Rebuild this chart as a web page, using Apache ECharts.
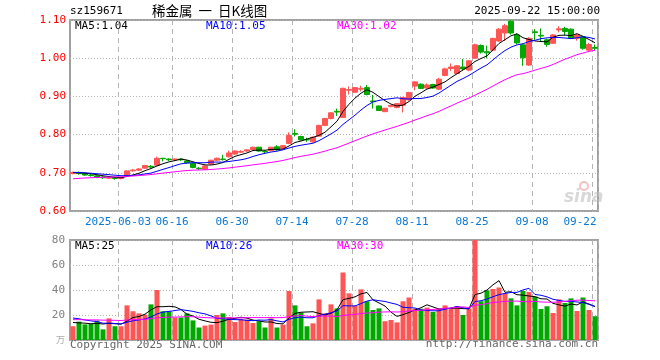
<!DOCTYPE html>
<html><head><meta charset="utf-8">
<script src="https://cdn.jsdelivr.net/npm/echarts@6/dist/echarts.min.js"></script>
<style>html,body{margin:0;padding:0;background:#fff}#c{width:660px;height:360px}</style>
</head><body><div id="c"></div>
<script>
const dates = ['2025-05-21','2025-05-22','2025-05-23','2025-05-26','2025-05-27','2025-05-28','2025-05-29','2025-05-30',
'2025-06-03','2025-06-04','2025-06-05','2025-06-06','2025-06-09','2025-06-10','2025-06-11','2025-06-12','2025-06-13','2025-06-16','2025-06-17','2025-06-18','2025-06-19','2025-06-20','2025-06-23','2025-06-24','2025-06-25','2025-06-26','2025-06-27','2025-06-30',
'2025-07-01','2025-07-02','2025-07-03','2025-07-04','2025-07-07','2025-07-08','2025-07-09','2025-07-10','2025-07-11','2025-07-14','2025-07-15','2025-07-16','2025-07-17','2025-07-18','2025-07-21','2025-07-22','2025-07-23','2025-07-24','2025-07-25','2025-07-28','2025-07-29','2025-07-30','2025-07-31',
'2025-08-01','2025-08-04','2025-08-05','2025-08-06','2025-08-07','2025-08-08','2025-08-11','2025-08-12','2025-08-13','2025-08-14','2025-08-15','2025-08-18','2025-08-19','2025-08-20','2025-08-21','2025-08-22','2025-08-25','2025-08-26','2025-08-27','2025-08-28','2025-08-29',
'2025-09-01','2025-09-02','2025-09-03','2025-09-04','2025-09-05','2025-09-08','2025-09-09','2025-09-10','2025-09-11','2025-09-12','2025-09-15','2025-09-16','2025-09-17','2025-09-18','2025-09-19','2025-09-22'];

const opens  = [0.698,0.701,0.698,0.694,0.692,0.689,0.686,0.688,0.685,0.693,0.705,0.707,0.712,0.717,0.720,0.738,0.736,0.734,0.736,0.731,0.725,0.712,0.709,0.723,0.733,0.736,0.742,0.749,0.754,0.757,0.761,0.767,0.756,0.758,0.768,0.764,0.777,0.803,0.795,0.787,0.781,0.796,0.824,0.842,0.861,0.845,0.916,0.911,0.919,0.923,0.888,0.875,0.860,0.874,0.871,0.877,0.891,0.927,0.932,0.922,0.931,0.919,0.955,0.973,0.960,0.977,0.969,1.000,1.033,1.017,1.021,1.045,1.066,1.097,1.061,1.035,0.982,1.069,1.060,1.048,1.039,1.074,1.078,1.076,1.052,1.056,1.021,1.028];
const closes = [0.701,0.698,0.694,0.693,0.689,0.687,0.688,0.685,0.687,0.705,0.707,0.710,0.719,0.715,0.738,0.737,0.734,0.736,0.734,0.726,0.714,0.711,0.718,0.733,0.738,0.735,0.752,0.757,0.756,0.760,0.767,0.757,0.755,0.767,0.760,0.771,0.798,0.801,0.786,0.786,0.793,0.824,0.842,0.857,0.859,0.921,0.918,0.923,0.921,0.905,0.886,0.863,0.869,0.876,0.881,0.897,0.910,0.938,0.921,0.930,0.922,0.945,0.972,0.977,0.980,0.972,0.993,1.035,1.016,1.014,1.052,1.076,1.085,1.066,1.040,1.001,1.052,1.067,1.058,1.036,1.061,1.077,1.070,1.052,1.061,1.026,1.036,1.026];
const highs  = [0.703,0.703,0.699,0.697,0.694,0.691,0.690,0.689,0.689,0.706,0.710,0.712,0.720,0.720,0.742,0.739,0.738,0.738,0.738,0.733,0.726,0.715,0.719,0.734,0.740,0.747,0.758,0.759,0.759,0.762,0.768,0.768,0.759,0.768,0.772,0.773,0.806,0.814,0.797,0.792,0.795,0.826,0.844,0.858,0.868,0.923,0.926,0.924,0.928,0.930,0.904,0.876,0.870,0.878,0.882,0.899,0.912,0.940,0.934,0.934,0.933,0.948,0.975,0.986,0.982,0.998,0.995,1.038,1.036,1.033,1.053,1.079,1.090,1.100,1.065,1.038,1.055,1.076,1.078,1.051,1.063,1.084,1.082,1.078,1.064,1.058,1.040,1.036];
const lows   = [0.696,0.695,0.692,0.690,0.686,0.684,0.684,0.682,0.683,0.692,0.703,0.705,0.710,0.712,0.718,0.730,0.731,0.732,0.731,0.724,0.712,0.707,0.707,0.721,0.731,0.732,0.740,0.747,0.752,0.755,0.760,0.755,0.751,0.756,0.758,0.762,0.775,0.795,0.785,0.781,0.779,0.795,0.822,0.840,0.849,0.843,0.905,0.909,0.913,0.903,0.868,0.862,0.859,0.871,0.869,0.858,0.889,0.916,0.919,0.920,0.920,0.917,0.953,0.966,0.958,0.968,0.966,0.998,1.012,1.000,1.018,1.043,1.045,1.062,1.036,0.980,0.980,1.048,1.045,1.030,1.037,1.068,1.060,1.050,1.046,1.022,1.018,1.020];
const volumes = [11,14.7,12.5,12.8,15.5,8.5,17.3,11,11,27.7,23,21.3,20.3,28.5,40,23,23,18,18,21.3,15.7,10,11.5,12.3,20,21.3,18.4,14.4,17,16.3,13.6,15,10,17.3,10,12.3,39.2,27.7,21.9,11,13.3,32.5,21.3,28.5,25.3,54,37.3,27.5,40.5,31,24,25.3,15,16,14.1,31,34,25,25,25.9,22.4,25.3,27.7,25.3,27,20,25.3,84,31,39.7,40.8,42,37.3,33.3,27.7,39.2,38.4,34.7,24.8,27,21.6,32.5,29.6,33.3,23.2,34,24,19];
// estimated closes / volumes of the 29 sessions before the window, used only to warm up the moving averages
const priorCloses = [0.668,0.664,0.670,0.672,0.669,0.674,0.671,0.676,0.673,0.678,0.675,0.680,0.677,0.679,0.682,0.680,0.684,0.681,0.683,0.685,0.700,0.703,0.705,0.702,0.698,0.701,0.699,0.700,0.702];
const priorVolumes = [15,17,14,16,15,18,14,16,15,17,16,14,15,17,16,15,17,14,16,16,21,22,20,21,22,16,14,15,14];

const labelIdx = [8,17,27,37,47,57,67,77,87];
const priceTicks = [0.6,1.1,0.1];
const volTicks = [0,80,20];
const priceLegend = ['MA5:1.04','MA10:1.05','MA30:1.02'];
const volLegend = ['MA5:25','MA10:26','MA30:30'];
const maColors = ['#000000','#0000ff','#ff00ff'];
const UP = '#ff5555', DOWN = '#00a800';

function ma(arr, prior, n){
  const all = prior.concat(arr);
  return arr.map((_, i) => {
    const end = prior.length + i;
    let s = 0;
    for (let k = end - n + 1; k <= end; k++) s += all[k];
    return +(s / n).toFixed(4);
  });
}

const kData = opens.map((o, i) => [o, closes[i], lows[i], highs[i]]);
const volData = volumes.map((v, i) => ({value: v, itemStyle: {color: closes[i] >= opens[i] ? UP : DOWN}}));
const mono = 'DejaVu Sans Mono';

const chart = echarts.init(document.getElementById('c'), null, {renderer: 'canvas'});
const splitV = {show: true, interval: (i) => labelIdx.includes(i), lineStyle: {color: '#b4b4b4', type: [5,4], width: 1}};
const splitH = {show: true, lineStyle: {color: '#b4b4b4', type: [1,2], width: 1}};

function legendTexts(arr, y){
  const xs = [75, 206, 337];
  return arr.map((t, i) => ({type: 'text', left: xs[i], top: y, style: {text: t, fill: maColors[i], font: '11px ' + mono}}));
}

chart.setOption({
  animation: false,
  backgroundColor: '#fff',
  grid: [
    {left: 70, top: 20, width: 528, height: 191, show: true, borderColor: '#a0a0a0', borderWidth: 2, backgroundColor: 'transparent'},
    {left: 70, top: 240, width: 528, height: 100, show: true, borderColor: '#a0a0a0', borderWidth: 2, backgroundColor: 'transparent'}
  ],
  xAxis: [
    {type: 'category', gridIndex: 0, data: dates, boundaryGap: true,
     axisLine: {show: false}, axisTick: {show: false}, splitLine: splitV,
     axisLabel: {show: true, interval: (i) => labelIdx.includes(i), margin: 6,
       formatter: (v, i) => i === 8 ? '{a|' + v + '}' : (i === 87 ? '{b|' + v.slice(5) + '}' : '{a|' + v.slice(5) + '}'),
       rich: {a: {fontFamily: mono, fontSize: 11, color: '#0a78d2', padding: [0, 6, 0, 0]},
              b: {fontFamily: mono, fontSize: 11, color: '#0a78d2', padding: [0, 30, 0, 0]}}}},
    {type: 'category', gridIndex: 1, data: dates, boundaryGap: true,
     axisLine: {show: false}, axisTick: {show: false}, axisLabel: {show: false}, splitLine: splitV}
  ],
  yAxis: [
    {type: 'value', gridIndex: 0, min: priceTicks[0], max: priceTicks[1], interval: priceTicks[2], scale: true,
     axisLine: {show: false}, axisTick: {show: false}, splitLine: splitH,
     axisLabel: {color: '#ff0000', fontFamily: mono, fontSize: 11, margin: 4, formatter: (v) => v.toFixed(2)}},
    {type: 'value', gridIndex: 1, min: volTicks[0], max: volTicks[1], interval: volTicks[2],
     axisLine: {show: false}, axisTick: {show: false}, splitLine: splitH,
     axisLabel: {color: '#808080', fontFamily: mono, fontSize: 11, margin: 5, formatter: (v) => v === 0 ? '' : String(v)}}
  ],
  series: [
    {type: 'candlestick', xAxisIndex: 0, yAxisIndex: 0, data: kData, barWidth: 5,
     itemStyle: {color: UP, color0: DOWN, borderColor: UP, borderColor0: DOWN, borderWidth: 1}},
    {type: 'line', xAxisIndex: 0, yAxisIndex: 0, data: ma(closes, priorCloses, 5), symbol: 'none', lineStyle: {color: maColors[0], width: 1}},
    {type: 'line', xAxisIndex: 0, yAxisIndex: 0, data: ma(closes, priorCloses, 10), symbol: 'none', lineStyle: {color: maColors[1], width: 1}},
    {type: 'line', xAxisIndex: 0, yAxisIndex: 0, data: ma(closes, priorCloses, 30), symbol: 'none', lineStyle: {color: maColors[2], width: 1}},
    {type: 'bar', xAxisIndex: 1, yAxisIndex: 1, data: volData, barWidth: 5, clip: true},
    {type: 'line', xAxisIndex: 1, yAxisIndex: 1, data: ma(volumes, priorVolumes, 5), symbol: 'none', lineStyle: {color: maColors[0], width: 1}},
    {type: 'line', xAxisIndex: 1, yAxisIndex: 1, data: ma(volumes, priorVolumes, 10), symbol: 'none', lineStyle: {color: maColors[1], width: 1}},
    {type: 'line', xAxisIndex: 1, yAxisIndex: 1, data: ma(volumes, priorVolumes, 30), symbol: 'none', lineStyle: {color: maColors[2], width: 1}}
  ],
  graphic: [
    {type: 'text', left: 70, top: 6, style: {text: 'sz159671', fill: '#000', font: '11px ' + mono}},
    {type: 'text', left: 152, top: 4, style: {text: '稀金属  一  日K线图', fill: '#000', font: '13.5px "Noto Sans CJK SC"'}},
    {type: 'text', right: 60, top: 6, style: {text: '2025-09-22 15:00:00', fill: '#000', font: '11px ' + mono}},
    ...legendTexts(priceLegend, 21),
    ...legendTexts(volLegend, 241),
    {type: 'text', left: 70, top: 340, style: {text: 'Copyright 2025 SINA.COM', fill: '#666', font: '11px ' + mono}},
    {type: 'text', right: 62, top: 339, style: {text: 'http://finance.sina.com.cn', fill: '#666', font: '11px ' + mono}},
    {type: 'text', left: 56, top: 335, style: {text: '万', fill: '#aaa', font: '9px "Noto Sans CJK SC"'}},
    {type: 'text', left: 564, top: 189, style: {text: 'sina', fill: 'rgba(190,190,190,0.6)', font: 'italic bold 17px "DejaVu Sans"'}},
    {type: 'circle', shape: {cx: 584, cy: 186, r: 4}, style: {fill: 'none', stroke: 'rgba(230,120,120,0.45)', lineWidth: 2}}
  ]
});
</script></body></html>
